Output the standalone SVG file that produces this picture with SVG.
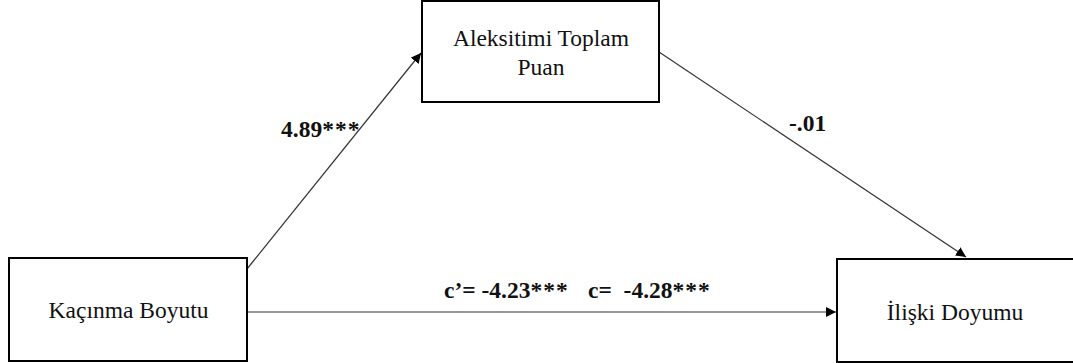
<svg xmlns="http://www.w3.org/2000/svg" width="1073" height="363" viewBox="0 0 1073 363">
<style>
.box{fill:#fff;stroke:#000;stroke-width:2}
.lbl{font-family:"Liberation Serif","Times New Roman",serif;font-size:23.5px;fill:#111}
.num{font-family:"Liberation Serif","Times New Roman",serif;font-size:23.5px;font-weight:bold;fill:#111}
.ast{letter-spacing:1px}
.conn{stroke:#333;stroke-width:1.2;fill:none;marker-end:url(#ah)}
</style>
<defs>
<marker id="ah" viewBox="0 0 10 10" refX="10" refY="5" markerWidth="10" markerHeight="10" markerUnits="userSpaceOnUse" orient="auto">
<path d="M0,0 L10,5 L0,10 z" fill="#000"/>
</marker>
</defs>
<rect width="1073" height="363" fill="#fff"/>
<g id="connectors">
<line class="conn" x1="247" y1="269" x2="421" y2="53"/>
<line class="conn" x1="659" y1="52" x2="966" y2="257"/>
<line class="conn" x1="247" y1="312" x2="836" y2="312"/>
</g>
<g id="node-aleksitimi">
<rect class="box" x="422" y="1" width="237" height="101"/>
<text class="lbl" x="541" y="46" text-anchor="middle">Aleksitimi Toplam</text>
<text class="lbl" x="541" y="75" text-anchor="middle">Puan</text>
</g>
<g id="node-kacinma">
<rect class="box" x="9" y="258" width="238" height="103"/>
<text class="lbl" x="128.5" y="318" text-anchor="middle">Kaçınma Boyutu</text>
</g>
<g id="node-iliski">
<rect class="box" x="837" y="259" width="240" height="103"/>
<text class="lbl" x="955" y="320" text-anchor="middle">İlişki Doyumu</text>
</g>
<g id="labels">
<text class="num" x="281" y="137">4.89<tspan class="ast">***</tspan></text>
<text class="num" x="789" y="131">-.01</text>
<text class="num" x="444" y="298" xml:space="preserve">c’= -4.23<tspan class="ast">***</tspan></text>
<text class="num" x="588" y="298" xml:space="preserve">c=  -4.28<tspan class="ast">***</tspan></text>
</g>
</svg>
